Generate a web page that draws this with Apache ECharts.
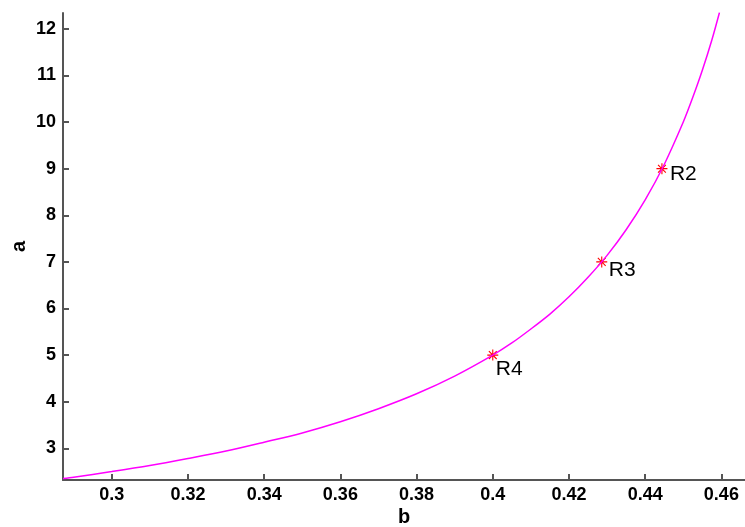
<!DOCTYPE html>
<html>
<head>
<meta charset="utf-8">
<script src="https://cdn.jsdelivr.net/npm/echarts@6/dist/echarts.min.js"></script>
<style>html,body{margin:0;padding:0;background:#fff;}#c{width:745px;height:527px;}</style>
</head>
<body>
<div id="c"></div>
<script>
// curve values
var curveB = [0.2872, 0.29, 0.30, 0.31, 0.32, 0.33, 0.34, 0.35, 0.36, 0.37, 0.38, 0.39, 0.40, 0.405, 0.41, 0.415, 0.42, 0.425, 0.43, 0.435, 0.44, 0.445, 0.45, 0.4525, 0.455, 0.4575, 0.4595];
var curveA = [2.35, 2.38, 2.50, 2.63, 2.78, 2.94, 3.13, 3.33, 3.57, 3.85, 4.17, 4.55, 5.00, 5.26, 5.56, 5.88, 6.25, 6.67, 7.14, 7.69, 8.33, 9.09, 10.0, 10.53, 11.11, 11.76, 12.35];
// marked points
var pointNames = ['R4', 'R3', 'R2'];
var pointB = [0.4, 0.4286, 0.4444];
var pointA = [5, 7, 9];
// tick labels
var xTicks = [0.3, 0.32, 0.34, 0.36, 0.38, 0.4, 0.42, 0.44, 0.46];
var yTicks = [3, 4, 5, 6, 7, 8, 9, 10, 11, 12];

var labelOffsets = [[3, 14], [7, 8], [8, 6]];
var star = 'path://M0,4.5 L10,4.5 L10,5.5 L0,5.5 Z M4.5,0 L5.5,0 L5.5,10 L4.5,10 Z M1.1,1.8 L1.8,1.1 L8.9,8.2 L8.2,8.9 Z M8.2,1.1 L8.9,1.8 L1.8,8.9 L1.1,8.2 Z';

var chart = echarts.init(document.getElementById('c'), null, {renderer: 'canvas'});
var axisLine = {show: true, onZero: false, lineStyle: {color: '#555', width: 2}};
var tickFont = {color: '#000', fontFamily: 'Liberation Sans, Arial, sans-serif', fontWeight: 'bold', fontSize: 18};

chart.setOption({
  animation: false,
  backgroundColor: '#fff',
  grid: {left: 63, right: 0, top: 13, bottom: 47, containLabel: false, outerBoundsMode: 'none'},
  xAxis: {
    type: 'value', min: 0.2872, max: 0.4662,
    name: 'b', nameLocation: 'middle', nameGap: 27, nameMoveOverlap: false,
    nameTextStyle: {color: '#000', fontFamily: 'Liberation Sans, Arial, sans-serif', fontWeight: 'bold', fontSize: 20},
    axisLine: axisLine,
    axisTick: {show: true, inside: true, length: 6, lineStyle: {color: '#555', width: 2}, customValues: xTicks},
    axisLabel: Object.assign({margin: 6, customValues: xTicks, formatter: function (v) { return String(+v.toFixed(2)); }}, tickFont),
    splitLine: {show: false}
  },
  yAxis: {
    type: 'value', min: 2.32, max: 12.34,
    name: 'a', nameLocation: 'middle', nameGap: 34, nameRotate: 90, nameMoveOverlap: false,
    nameTextStyle: {color: '#000', fontFamily: 'Liberation Sans, Arial, sans-serif', fontWeight: 'bold', fontSize: 20},
    axisLine: axisLine,
    axisTick: {show: true, inside: true, length: 6, lineStyle: {color: '#555', width: 2}, customValues: yTicks},
    axisLabel: Object.assign({margin: 7, customValues: yTicks}, tickFont),
    splitLine: {show: false}
  },
  series: [
    {
      type: 'line', showSymbol: false, smooth: 0.3,
      data: curveB.map(function (b, i) { return [b, curveA[i]]; }),
      lineStyle: {color: '#ff00ff', width: 1.5},
      clip: true
    },
    {
      type: 'scatter', symbol: star, symbolSize: 11,
      itemStyle: {color: '#ff0000', opacity: 1},
      data: pointB.map(function (b, i) {
        return {
          value: [b, pointA[i]], name: pointNames[i],
          label: {offset: labelOffsets[i]}
        };
      }),
      label: {
        show: true, position: 'inside', align: 'left', verticalAlign: 'middle',
        formatter: '{b}', color: '#000', fontSize: 21, textBorderWidth: 0,
        fontFamily: 'Liberation Sans, Arial, sans-serif'
      }
    }
  ]
});
</script>
</body>
</html>
